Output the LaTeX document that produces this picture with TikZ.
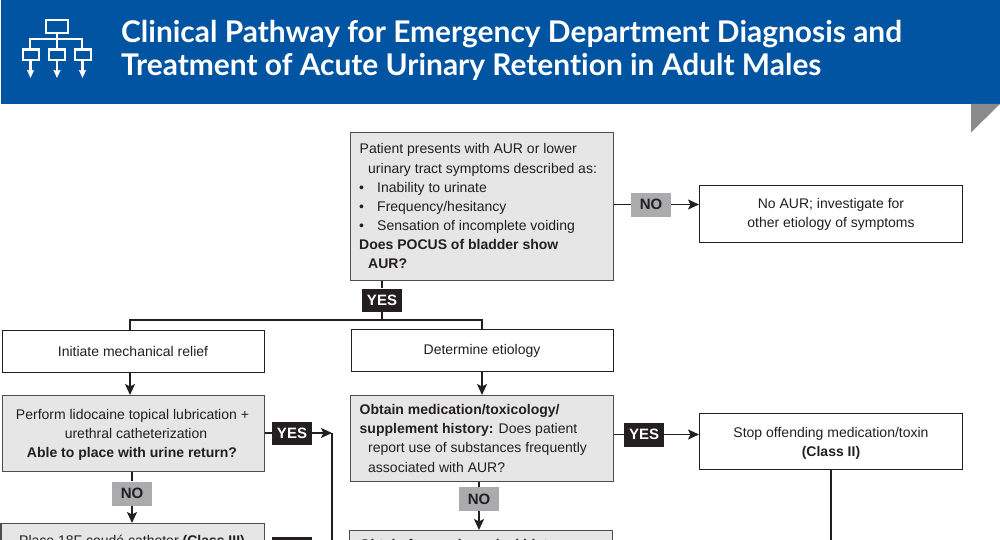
\documentclass[tikz,border=0pt]{standalone}
\usepackage{fontspec}
\setmainfont{Liberation Sans}
\newfontfamily\headfont[Ligatures=NoCommon]{Lato}
\usetikzlibrary{arrows.meta}
\definecolor{hblue}{HTML}{0054A2}
\definecolor{fillg}{HTML}{E6E6E6}
\definecolor{tagg}{HTML}{ABABAD}
\definecolor{tagk}{HTML}{231F20}
\definecolor{edgeg}{HTML}{4D4D4F}
\definecolor{foldg}{HTML}{8A8A8C}
\newcommand{\tfs}{\fontsize{14}{16}\selectfont}
\tikzset{
  x=1pt,y=-1pt,
  box/.style={draw=tagk,line width=1.2pt,fill=white,anchor=north west,inner sep=0pt},
  gbox/.style={draw=edgeg,line width=1.3pt,fill=fillg,anchor=north west,inner sep=0pt},
  txt/.style={anchor=base west,inner sep=0pt,font=\tfs,text=tagk},
  btxt/.style={txt,font=\bfseries\tfs},
  ctxt/.style={anchor=base,inner sep=0pt,font=\tfs,text=tagk},
  cbtxt/.style={ctxt,font=\bfseries\tfs},
  notag/.style={fill=tagg,text=tagk,font=\bfseries\fontsize{15}{16}\selectfont,minimum width=40,minimum height=24,inner sep=0pt},
  yestag/.style={fill=tagk,text=white,font=\bfseries\fontsize{15}{16}\selectfont,minimum width=40,minimum height=23,inner sep=0pt},
  conn/.style={draw=tagk,line width=1.7pt},
  arr/.style={conn,-{Stealth[length=11pt,width=10pt,inset=2.5pt]}},
  iconl/.style={draw=white,line width=2.1pt},
  iconarr/.style={draw=white,line width=2.1pt,-{Stealth[length=8pt,width=7pt,inset=1pt]}},
}
\begin{document}
\begin{tikzpicture}
\useasboundingbox (0,0) rectangle (1000,540);
% banner
\fill[hblue] (1,0.500) rectangle (1000,104);
\fill[foldg] (971,104) -- (1000,104) -- (971,132.500) -- cycle;
% icon
\draw[iconl] (46,20) rectangle (68,33);
\draw[iconl] (57,33) -- (57,49);
\draw[iconl] (30,49) -- (30,39) -- (82,39) -- (82,49);
\draw[iconl] (23,49.500) rectangle (39,60);
\draw[iconl] (49,49.500) rectangle (65,60);
\draw[iconl] (75,49.500) rectangle (91,60);
\draw[iconarr] (30.500,60) -- (30.500,78);
\draw[iconarr] (57,60) -- (57,78);
\draw[iconarr] (82.500,60) -- (82.500,78);
\node[anchor=base west,inner sep=0pt,text=white,font=\headfont\bfseries\fontsize{29.9}{32}\selectfont] (t1) at (121,43) {Clinical Pathway for Emergency Department Diagnosis and};
\node[anchor=base west,inner sep=0pt,text=white,font=\headfont\bfseries\fontsize{29.9}{32}\selectfont] (t2) at (121,76) {Treatment of Acute Urinary Retention in Adult Males};
% boxes
\node[gbox,minimum width=263,minimum height=148] (b1) at (350,132) {};
\node[txt] at (359.500,154) {Patient presents with AUR or lower};
\node[txt] at (368,173.500) {urinary tract symptoms described as:};
\node[txt] at (359,192.500) {•};
\node[txt] at (377,192.500) {Inability to urinate};
\node[txt] at (359,211) {•};
\node[txt] at (377,211) {Frequency/hesitancy};
\node[txt] at (359,230.500) {•};
\node[txt] at (377,230.500) {Sensation of incomplete voiding};
\node[btxt] at (359,249.500) {Does POCUS of bladder show};
\node[btxt] at (368,268.500) {AUR?};
\node[box,minimum width=263,minimum height=57] (b2) at (699,184.500) {};
\node[ctxt] at (831,208.500) {No AUR; investigate for};
\node[ctxt] at (831,227.500) {other etiology of symptoms};
\node[box,minimum width=262,minimum height=42] (b3) at (2,330) {};
\node[ctxt] at (133,356) {Initiate mechanical relief};
\node[box,minimum width=262,minimum height=42] (b4) at (351,329) {};
\node[ctxt] at (482,354.500) {Determine etiology};
\node[gbox,minimum width=262,minimum height=76] (b5) at (1.500,395) {};
\node[ctxt] at (132.500,419) {Perform lidocaine topical lubrication +};
\node[ctxt] at (136,438.500) {urethral catheterization};
\node[cbtxt] at (132,457.500) {Able to place with urine return?};
\node[gbox,minimum width=262.500,minimum height=85.500] (b6) at (350,395) {};
\node[btxt] at (359.500,414.500) {Obtain medication/toxicology/};
\node[txt] at (359.500,433.500) {\textbf{supplement history:} Does patient};
\node[txt] at (368,452.500) {report use of substances frequently};
\node[txt] at (368,472) {associated with AUR?};
\node[box,minimum width=263,minimum height=56] (b7) at (699,413) {};
\node[ctxt] at (831,437) {Stop offending medication/toxin};
\node[cbtxt] at (831,456) {(Class II)};
\node[gbox,minimum width=263,minimum height=40] (b8) at (0.500,523) {};
\node[ctxt] at (132,545) {Place 18F coudé catheter \textbf{(Class III)}};
\node[gbox,minimum width=262.500,minimum height=40] (b9) at (349,530) {};
\node[btxt] at (359.500,549) {Obtain focused surgical history:};
% tags
\node[notag] (n1) at (651,204.500) {NO};
\node[yestag] (y1) at (382,300) {YES};
\node[yestag] (y2) at (292,433) {YES};
\node[notag] (n2) at (132,493.500) {NO};
\node[yestag,minimum height=24] (y3) at (644,434.500) {YES};
\node[notag] (n3) at (479,499) {NO};
\node[yestag,anchor=north] (y4) at (292,537) {};
% connectors
\coordinate (j1) at (382,320);
\coordinate (l1) at (130,320);
\coordinate (r1) at (482,320);
\coordinate (v1) at (332,433);
\coordinate (v2) at (332,540);
\coordinate (v3) at (831,469);
\coordinate (v4) at (831,540);
\draw[conn] (b1.east |- n1) -- (n1);
\draw[arr] (n1) -- (b2.west |- n1);
\draw[conn] (b1.south -| y1) -- (y1);
\draw[conn] (y1) -- (j1);
\draw[conn] (l1 |- b3.north) -- (l1) -- (r1) -- (r1 |- b4.north);
\draw[arr] (b3.south -| l1) -- (b5.north -| l1);
\draw[arr] (b4.south -| r1) -- (b6.north -| r1);
\draw[conn] (b5.east |- y2) -- (y2);
\draw[arr] (y2) -- (v1);
\draw[conn] (v1) -- (v2);
\draw[conn] (b5.south -| n2) -- (n2);
\draw[arr] (n2) -- (b8.north -| n2);
\draw[conn] (b6.east |- y3) -- (y3);
\draw[arr] (y3) -- (b7.west |- y3);
\draw[conn] (b6.south -| n3) -- (n3);
\draw[arr] (n3) -- (b9.north -| n3);
\draw[conn] (v3) -- (v4);
\end{tikzpicture}
\end{document}
